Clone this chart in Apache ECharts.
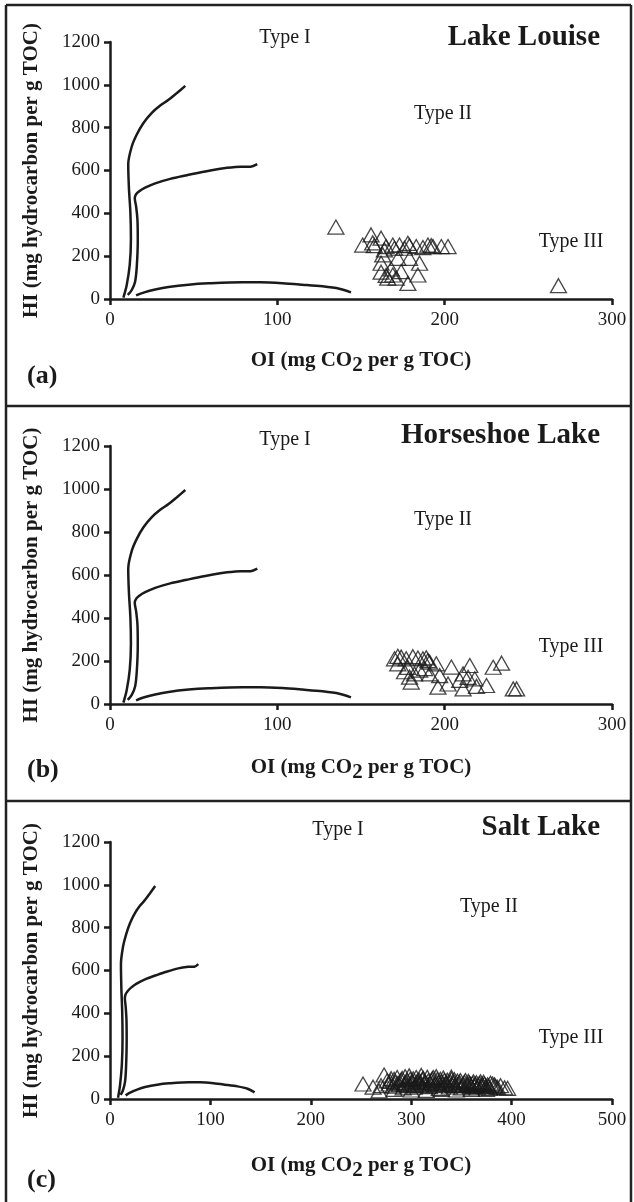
<!DOCTYPE html>
<html>
<head>
<meta charset="utf-8">
<script src="https://cdn.jsdelivr.net/npm/echarts@6/dist/echarts.min.js"></script>
<style>
html,body{margin:0;padding:0;background:#fff}
#chart-container{width:634px;height:1202px}
</style>
</head>
<body>
<div id="chart-container"></div>
<script>
// kerogen type reference lines (OI, HI) - same in all three panels
const typeICurve = [[8,6],[10,65],[11.8,160],[12.5,280],[12.2,400],[11.3,520],[10.9,630],[13,712],[16,768],[20,822],[25,869],[30,903],[35,930],[40,962],[45,995]]
const typeIICurve = [[10.6,19],[13,42],[15,81],[16,151],[16.6,276],[16.4,370],[15.6,432],[14.8,470],[15.5,488],[17.5,503],[21,520],[27,540],[36,561],[46,578],[56,594],[68,610],[78,617],[84,618],[88,630]]
const typeIIICurve = [[15.6,17],[20,30],[27,44],[35,56],[47,67],[59,73],[79,78],[90,78],[103,74],[115,67],[127,59],[137,48],[144,31]]

// samples (OI, HI)
const lakeLouise = [
  [135,336],[268,62],
  [151,252],[156,299],[157,262],[158,249],[162,284],[164,229],[165,245],[169,252],[170,237],[173,252],[176,237],
  [178,260],[179,249],[183,245],[187,240],[190,252],[192,249],[193,245],[198,245],[202,245],
  [163,206],[172,190],[179,190],[185,167],[162,167],
  [162,125],[165,110],[169,112],[174,128],[184,112],[166,97],[171,97],[178,73],[168,140]
]
const horseshoeLake = [
  [170,210],[172,222],[174,218],[177,210],[181,220],[184,214],[187,210],[189,215],[190,202],[191,195],[195,187],
  [204,172],[215,179],[229,171],[234,190],
  [172,187],[178,170],[176,150],[179,125],[180,102],[185,158],[188,165],[191,140],[197,132],[202,93],[209,110],
  [211,140],[214,124],[218,117],[219,82],[211,70],[196,78],[225,86],[241,70],[243,70],[182,140]
]
const saltLake = [
  [252,70],[262,55],[268,38],[270,62],[273,112],[276,85],[278,70],[280,95],[282,60],[284,78],[286,100],[288,66],
  [290,88],[292,52],[294,104],[295,75],[297,62],[299,92],[301,80],[303,55],[305,100],[307,70],[308,88],[310,62],
  [312,96],[314,78],[316,101],[318,58],[320,86],[322,100],[324,70],[326,90],[328,50],[330,80],[332,98],[334,66],
  [336,88],[338,56],[340,92],[342,74],[344,62],[346,84],[348,78],[350,52],[352,70],[354,86],[356,64],[358,74],
  [360,58],[362,80],[364,68],[366,52],[368,72],[370,60],[372,78],[374,56],[376,66],[378,50],[381,70],[384,58],
  [389,62],[393,52],[396,50],[300,42],[315,40],[330,45],[345,42],[360,45],[375,45],[283,45],[298,108],[310,110],
  [325,104],[340,102],
  [279,82],[283,92],[287,74],[291,96],[293,68],[296,84],[300,70],[302,94],[304,64],[306,82],[309,76],[311,90],
  [313,68],[317,84],[319,72],[321,94],[323,62],[327,76],[329,92],[331,68],[333,86],[335,74],[339,80],[341,64],
  [343,90],[347,68],[349,86],[351,62],[353,78],[357,82],[359,68],[361,72],[363,60],[365,76],[367,64],[369,80],
  [371,66],[373,70],[377,60],[379,74],[383,66],[386,54]
]

const hiTicks = [0,200,400,600,800,1000,1200]
const oiTicksAB = [0,100,200,300]
const oiTicksC = [0,100,200,300,400,500]
const lakeNames = ['Lake Louise','Horseshoe Lake','Salt Lake']
const panelTags = ['(a)','(b)','(c)']

const FONT = '"Liberation Serif", "Times New Roman", serif'
const INK = '#1a1a1a'

// pixel layout of each panel
const layout = [
  {top:42, zero:299, gapX:46, titleY:38, tagY:376, t1:[285,38], t2:[443,114], t3:[571,242]},
  {top:446, zero:704, gapX:48, titleY:436, tagY:770, t1:[285,440], t2:[443,520], t3:[571,647]},
  {top:842, zero:1099, gapX:51, titleY:828, tagY:1180, t1:[338,830], t2:[489,907], t3:[571,1038]}
]
const samples = [lakeLouise, horseshoeLake, saltLake]
const oiTicks = [oiTicksAB, oiTicksAB, oiTicksC]

const grid = [], xAxis = [], yAxis = [], series = [], graphic = []

const txt = (text, x, y, size, bold, align) => ({
  type:'text', x, y, silent:true,
  style:{text, font:(bold?'bold ':'')+size+'px '+FONT, fill:INK,
    textAlign:align||'center', align:align||'center', textVerticalAlign:'middle', verticalAlign:'middle'}
})

layout.forEach((p,i) => {
  const ticks = oiTicks[i]
  grid.push({left:110, right:22, top:p.top, height:p.zero-p.top, outerBoundsMode:'none'})
  const axisBase = {
    type:'value', gridIndex:i, splitLine:{show:false},
    axisLine:{show:true, onZero:false, lineStyle:{color:INK, width:2.5}},
    axisTick:{show:true, length:6, lineStyle:{color:INK, width:2.5}},
    axisLabel:{fontFamily:FONT, fontSize:19, color:INK, margin:12, hideOverlap:false, formatter:v => String(v)}
  }
  xAxis.push(Object.assign({}, axisBase, {
    min:ticks[0], max:ticks[ticks.length-1], interval:ticks[1]-ticks[0],
    name:'OI (mg CO{sub|2} per g TOC)', nameLocation:'middle', nameGap:p.gapX,
    nameTextStyle:{fontFamily:FONT, fontSize:21, fontWeight:'bold', color:INK,
      rich:{sub:{fontFamily:FONT, fontSize:21, fontWeight:'bold', color:INK, padding:[10,0,0,0]}}}
  }))
  // second x axis only to make the ticks cross the axis line
  xAxis.push({
    type:'value', gridIndex:i, min:ticks[0], max:ticks[ticks.length-1], interval:ticks[1]-ticks[0],
    splitLine:{show:false}, axisLine:{show:false}, axisLabel:{show:false},
    axisTick:{show:true, inside:true, length:6, lineStyle:{color:INK, width:2.5}}
  })
  yAxis.push(Object.assign({}, axisBase, {
    min:hiTicks[0], max:hiTicks[hiTicks.length-1], interval:hiTicks[1]-hiTicks[0],
    axisLabel:Object.assign({}, axisBase.axisLabel, {margin:10}),
    name:'HI (mg hydrocarbon per g TOC)', nameLocation:'middle', nameRotate:90, nameGap:68,
    nameTextStyle:{fontFamily:FONT, fontSize:21, fontWeight:'bold', color:INK}
  }))

  ;[typeICurve, typeIICurve, typeIIICurve].forEach(c => {
    series.push({
      type:'line', xAxisIndex:i*2, yAxisIndex:i, data:c, smooth:0.3,
      showSymbol:false, silent:true, lineStyle:{color:INK, width:2.5}
    })
  })
  series.push({
    type:'scatter', xAxisIndex:i*2, yAxisIndex:i, data:samples[i],
    symbol:'triangle', symbolSize:[16,14], silent:true,
    itemStyle:{color:'rgba(255,255,255,0)', borderColor:INK, borderWidth:1.3}
  })

  graphic.push(txt(lakeNames[i], 600, p.titleY, 29, true, 'right'))
  graphic.push(txt('Type I', p.t1[0], p.t1[1], 20, false))
  graphic.push(txt('Type II', p.t2[0], p.t2[1], 20, false))
  graphic.push(txt('Type III', p.t3[0], p.t3[1], 20, false))
  graphic.push(txt(panelTags[i], 27, p.tagY, 26, true, 'left'))
})

// panel frame
const frameLine = (x1,y1,x2,y2) => ({type:'line', silent:true, shape:{x1,y1,x2,y2}, style:{stroke:'#222', lineWidth:2.5}})
graphic.push(frameLine(6,5,631,5))
graphic.push(frameLine(6,5,6,1202))
graphic.push(frameLine(631,5,631,1202))
graphic.push(frameLine(6,406,631,406))
graphic.push(frameLine(6,801,631,801))

const dom = document.getElementById('chart-container')
const myChart = echarts.init(dom, null, {renderer:'canvas'})
myChart.setOption({
  animation:false,
  backgroundColor:'#fff',
  grid, xAxis, yAxis, series, graphic
})
window.addEventListener('resize', myChart.resize)
</script>
</body>
</html>
